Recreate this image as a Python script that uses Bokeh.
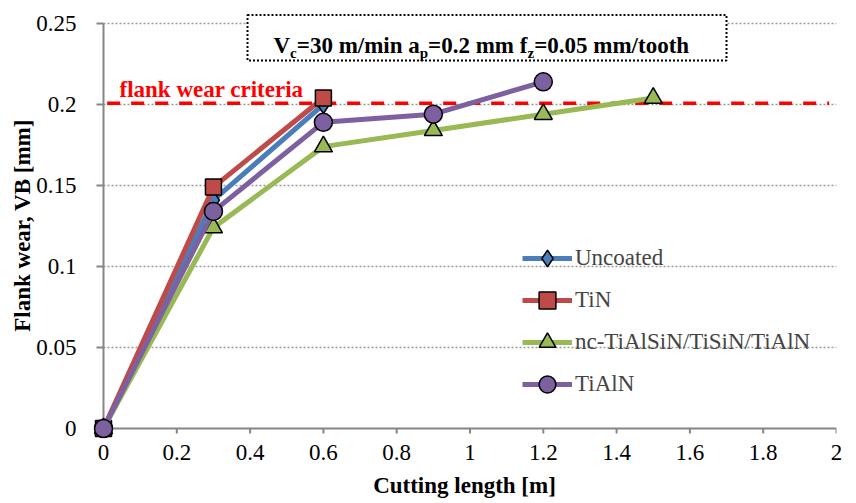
import numpy as np
from bokeh.plotting import figure
from bokeh.models import (Range1d, FixedTicker, NumeralTickFormatter, Label,
                          Legend, LegendItem, LinearAxis)
from bokeh.embed import file_html
from bokeh.resources import INLINE

# ---------------- data ----------------
cutting_length = [0, 0.3, 0.6, 0.9, 1.2, 1.5]
uncoated = [0, 0.141, 0.200]
tin = [0, 0.149, 0.204]
nc_tialsin = [0, 0.124, 0.174, 0.184, 0.194, 0.204]
tialn = [0, 0.134, 0.189, 0.194, 0.214]
series_names = ["Uncoated", "TiN", "nc-TiAlSiN/TiSiN/TiAlN", "TiAlN"]
criterion = 0.2
criterion_label = "flank wear criteria"
x_ticks = [0, 0.2, 0.4, 0.6, 0.8, 1.0, 1.2, 1.4, 1.6, 1.8, 2.0]
y_ticks = [0, 0.05, 0.1, 0.15, 0.2, 0.25]
x_label = "Cutting length [m]"
y_label = "Flank wear, VB [mm]"

# ---------------- geometry helpers (pixel -> data) ----------------
PX0, PXU = 103, 366.5     # px of x=0, px per unit
PY0, PYU = 428, 1620      # px of y=0, px per unit
def X(px): return (px - PX0) / PXU
def Y(py): return (PY0 - py) / PYU

FONT = "Times"
GRID = "#9a9a9a"
AXIS = "#868686"

p = figure(width=856, height=503, output_backend="svg", toolbar_location=None,
           x_range=Range1d(X(92), X(836)), y_range=Range1d(Y(438), Y(12)),
           min_border_left=92, min_border_right=20, min_border_top=12,
           min_border_bottom=65, x_axis_type=None, y_axis_type=None)
p.outline_line_color = None
p.xgrid.visible = False
p.ygrid.visible = False
p.background_fill_color = "white"
p.border_fill_color = "white"

xa = LinearAxis(ticker=FixedTicker(ticks=x_ticks),
                formatter=NumeralTickFormatter(format="0.[0]"), axis_label=x_label)
ya = LinearAxis(ticker=FixedTicker(ticks=y_ticks),
                formatter=NumeralTickFormatter(format="0.[00]"), axis_label=y_label)
for ax in (xa, ya):
    ax.axis_line_color = None
    ax.major_tick_line_color = None
    ax.minor_tick_line_color = None
    ax.major_label_text_font = FONT
    ax.major_label_text_font_size = "23px"
    ax.major_label_text_color = "black"
    ax.axis_label_text_font = FONT
    ax.axis_label_text_font_size = "23px"
    ax.axis_label_text_font_style = "bold"
    ax.axis_label_text_color = "black"
xa.major_label_standoff = 0
xa.axis_label_standoff = 10
ya.major_label_standoff = 10
ya.axis_label_standoff = -2
p.add_layout(xa, "below")
p.add_layout(ya, "left")

# horizontal gridlines (dotted), spanning the axis extent
p.segment(x0=[x_ticks[0]] * (len(y_ticks) - 1), x1=[x_ticks[-1]] * (len(y_ticks) - 1),
          y0=y_ticks[1:], y1=y_ticks[1:], line_color=GRID, line_width=1.3,
          line_dash="2 2")

# axis lines and tick marks at the data origin
tx = 5 / PYU   # x tick length (down)
ty = 7 / PXU   # y tick length (left)
p.segment(x0=x_ticks, x1=x_ticks, y0=[0] * len(x_ticks), y1=[-tx] * len(x_ticks),
          line_color=AXIS, line_width=2)
p.segment(x0=[0] * len(y_ticks), x1=[-ty] * len(y_ticks), y0=y_ticks, y1=y_ticks,
          line_color=AXIS, line_width=2)
p.segment(x0=[x_ticks[0], 0], x1=[x_ticks[-1], 0], y0=[0, y_ticks[0]],
          y1=[0, y_ticks[-1]], line_color=AXIS, line_width=2)

# criterion line
p.line([0.01, 1.98], [criterion + 0.0008, criterion + 0.0008], line_color="#ff0000",
       line_width=3.5, line_dash="13 11")
p.add_layout(Label(x=X(119), y=Y(89), text=criterion_label, text_font=FONT,
                   text_font_size="23px", text_font_style="bold",
                   text_color="#ff0000", text_baseline="alphabetic"))

colors = ["#4a7ebb", "#be4b48", "#98b954", "#7d60a0"]
ys = [uncoated, tin, nc_tialsin, tialn]
markers = ["diamond", "square", "triangle", "circle"]
sizes = [18, 16, 18, 18]
items = []
for name, yv, c, m, s in zip(series_names, ys, colors, markers, sizes):
    xv = cutting_length[:len(yv)]
    lr = p.line(xv, yv, line_color=c, line_width=5)
    sr = p.scatter(xv, yv, marker=m, size=s, fill_color=c,
                   line_color="black", line_width=1.5)
    items.append(LegendItem(label=name, renderers=[lr, sr]))

legend = Legend(items=items, location=(430, 33), label_text_font=FONT,
                label_text_font_size="23px", glyph_width=50, glyph_height=42,
                label_height=42, spacing=0, padding=0, margin=0,
                border_line_color=None, background_fill_alpha=0,
                label_standoff=3)
p.add_layout(legend)

# condition box
p.quad(left=[X(247)], right=[X(726)], top=[Y(14.5)], bottom=[Y(60)],
       fill_color="white", line_color="black", line_width=2, line_dash="2 2")
pieces = [("V", 273.0, False), ("c", 289.6, True), ("=30 m/min a", 296.3, False),
          ("p", 419.3, True), ("=0.2 mm f", 427.6, False), ("z", 527.0, True),
          ("=0.05 mm/tooth", 533.7, False)]
for t, px, sub in pieces:
    p.add_layout(Label(x=X(px), y=Y(52 if sub else 45), text=t, text_font=FONT,
                       text_font_size="15px" if sub else "23px",
                       text_font_style="bold", text_color="black",
                       text_baseline="alphabetic", text_align="left"))

open("out.html", "w").write(file_html(p, INLINE))
